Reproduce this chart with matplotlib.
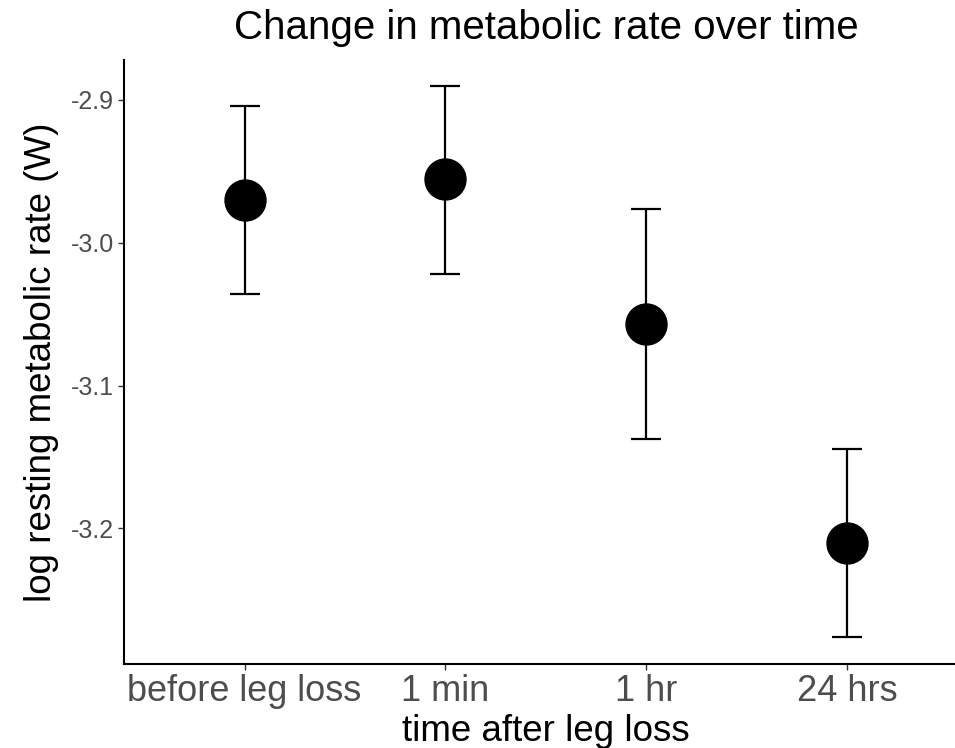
import matplotlib.pyplot as plt

plt.rcParams['font.family'] = ['Liberation Sans', 'DejaVu Sans']

# data
groups = ['before leg loss', '1 min', '1 hr', '24 hrs']
means = [-2.970, -2.9556, -3.0571, -3.2100]
lower = [-3.0357, -3.0217, -3.1377, -3.2758]
upper = [-2.9041, -2.8905, -2.9764, -3.1442]
yticks = [-2.9, -3.0, -3.1, -3.2]

x = list(range(1, len(groups) + 1))
err = [[m - lo for m, lo in zip(means, lower)],
       [hi - m for m, hi in zip(means, upper)]]

fig = plt.figure(figsize=(9.55, 7.48), dpi=100)
ax = fig.add_axes([124 / 955, 1 - 664 / 748, (955 - 124) / 955, (664 - 60) / 748])

ax.errorbar(x, means, yerr=err, fmt='none', ecolor='black',
            elinewidth=1.6, capsize=11, capthick=1.6, zorder=2)
ax.plot(x, means, 'o', color='black', markersize=29.5, zorder=3)

ax.set_xlim(0.4, 4 + (955 - 847) / 201)
ax.set_ylim(-3.295, -2.872)
ax.set_xticks(x)
ax.set_xticklabels(groups, fontsize=26, color='#4D4D4D')
ax.set_yticks(yticks)
ax.set_yticklabels([f'{t:.1f}' for t in yticks], fontsize=18, color='#4D4D4D')
ax.tick_params(axis='both', length=4, width=1, color='#333333', pad=3)

for side in ['top', 'right']:
    ax.spines[side].set_visible(False)
for side in ['left', 'bottom']:
    ax.spines[side].set_linewidth(1.5)

# the panel runs a little past the right edge of the picture, so titles sit off-centre
ax.set_xlabel('time after leg loss', fontsize=26.5, labelpad=3)
ax.xaxis.set_label_coords(0.508, -0.082)
ax.xaxis.label.set_va('top')
ax.set_ylabel('log resting metabolic rate (W)', fontsize=26.5, labelpad=9)
ax.set_title('Change in metabolic rate over time', fontsize=29, pad=15, x=0.508)

fig.savefig('out.png', dpi=100)
